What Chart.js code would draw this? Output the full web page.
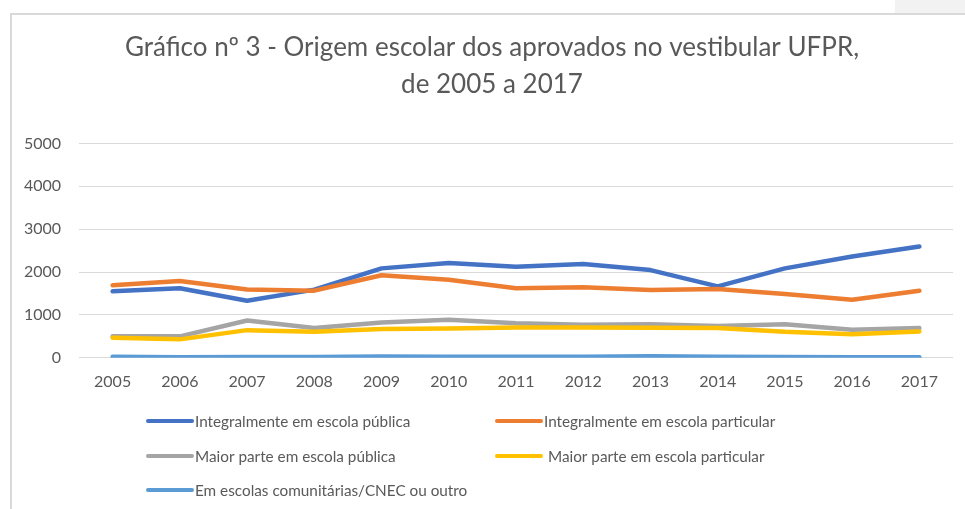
<!DOCTYPE html>
<html>
<head>
<meta charset="utf-8">
<script src="https://cdn.jsdelivr.net/npm/chart.js@4.4.0/dist/chart.umd.min.js"></script>
<style>
  html, body { margin: 0; padding: 0; background: #ffffff; }
  #wrap { position: relative; width: 965px; height: 509px; overflow: hidden; }
  #frame { position: absolute; left: 10px; top: 13px; right: -2px; bottom: -2px;
           border-left: 2px solid #d9d9d9; border-top: 2px solid #d9d9d9; }
  #tab { position: absolute; left: 895px; top: 0; width: 70px; height: 13px; background: #f2f2f2; }
  canvas { position: absolute; left: 0; top: 0; }
</style>
</head>
<body>
<div id="wrap">
  <div id="tab"></div>
  <div id="frame"></div>
  <canvas id="c" width="965" height="509"></canvas>
</div>
<script>
// ---- data ----
const years = ["2005","2006","2007","2008","2009","2010","2011","2012","2013","2014","2015","2016","2017"];
const seriesNames = [
  "Integralmente em escola pública",
  "Integralmente em escola particular",
  "Maior parte em escola pública",
  " Maior parte em escola particular",
  "Em escolas comunitárias/CNEC ou outro"
];
const integralPublica    = [1550, 1620, 1330, 1590, 2085, 2210, 2125, 2185, 2045, 1665, 2085, 2360, 2595];
const integralParticular = [1690, 1790, 1595, 1565, 1925, 1820, 1620, 1645, 1580, 1605, 1485, 1355, 1565];
const maiorPublica       = [ 500,  500,  870,  695,  825,  885,  805,  770,  780,  740,  780,  655,  695];
const maiorParticular    = [ 465,  430,  645,  605,  670,  685,  705,  705,  700,  695,  605,  550,  615];
const comunitarias       = [  25,   15,   20,   20,   30,   25,   25,   25,   35,   25,   20,   10,   10];
const yTicks = [0, 1000, 2000, 3000, 4000, 5000];
const titleLines = ["Gráfico nº 3 - Origem escolar dos aprovados no vestibular UFPR,", "de 2005 a 2017"];

const colors = ["#4472C4", "#ED7D31", "#A5A5A5", "#FFC000", "#5B9BD5"];
const values = [integralPublica, integralParticular, maiorPublica, maiorParticular, comunitarias];

const FONT = "Lato, 'Open Sans', 'Liberation Sans', sans-serif";
const TXT = "#595959";

const gridLegend = {
  id: 'gridLegend',
  afterLayout(chart) {
    // widen the label clip area of the value axis so its labels are not cut
    chart.scales.y.left = 0;
  },
  afterDraw(chart, args, opts) {
    const ctx = chart.ctx;
    ctx.save();
    ctx.font = opts.fontSize + "px " + FONT;
    ctx.textBaseline = "middle";
    ctx.textAlign = "left";
    chart.data.datasets.forEach((ds, i) => {
      const col = i % 2, row = Math.floor(i / 2);
      const x0 = opts.colX[col], y = opts.rowY[row];
      ctx.strokeStyle = ds.borderColor;
      ctx.lineWidth = opts.lineWidth;
      ctx.lineCap = "round";
      ctx.beginPath();
      ctx.moveTo(x0, y);
      ctx.lineTo(x0 + opts.swatch, y);
      ctx.stroke();
      ctx.fillStyle = TXT;
      ctx.fillText(ds.label, x0 + opts.swatch + opts.gap, y + 1);
    });
    ctx.restore();
  }
};

const datasets = seriesNames.map((name, i) => ({
  label: name,
  data: values[i],
  borderColor: colors[i],
  backgroundColor: colors[i],
  borderWidth: 4.5,
  borderCapStyle: 'round',
  borderJoinStyle: 'round',
  pointRadius: 0,
  pointHoverRadius: 0,
  tension: 0,
  fill: false
}));
datasets.forEach((d, i) => d.order = seriesNames.length - i);

new Chart(document.getElementById('c'), {
  type: 'line',
  data: { labels: years, datasets: datasets },
  plugins: [gridLegend],
  options: {
    responsive: false,
    animation: false,
    layout: { padding: { left: 31, right: 12, top: 14, bottom: 104 } },
    plugins: {
      legend: { display: false },
      tooltip: { enabled: false },
      title: {
        display: true,
        text: titleLines,
        color: TXT,
        font: { family: FONT, size: 26, weight: 'normal', lineHeight: 1.43 },
        padding: { top: 15, bottom: 40 }
      },
      gridLegend: {
        colX: [148, 497],
        rowY: [421, 456, 490],
        swatch: 44,
        gap: 3,
        lineWidth: 4,
        fontSize: 15.3
      }
    },
    scales: {
      x: {
        offset: true,
        grid: { display: false, drawTicks: false },
        border: { display: false },
        ticks: { color: TXT, font: { family: FONT, size: 16 }, padding: 14, maxRotation: 0, autoSkip: false }
      },
      y: {
        min: 0,
        max: 5000,
        afterBuildTicks: (scale) => { scale.ticks = yTicks.map(v => ({ value: v })); },
        afterFit: (scale) => { scale.width = 48; },
        grid: { color: "#d9d9d9", lineWidth: 1, drawTicks: false },
        border: { display: false },
        ticks: { color: TXT, font: { family: FONT, size: 16 }, padding: 18, callback: (v) => String(v) }
      }
    }
  }
});
</script>
</body>
</html>
